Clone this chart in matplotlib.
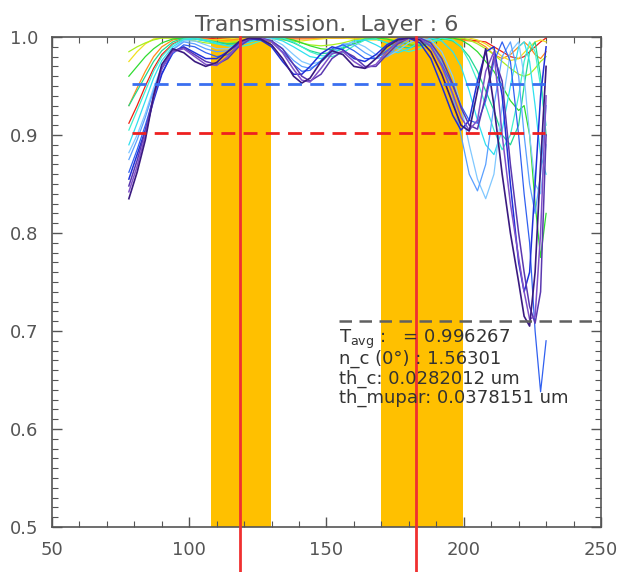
import matplotlib
matplotlib.use("Agg")
import matplotlib.pyplot as plt
from matplotlib.ticker import MultipleLocator

# wavelength grid shared by all the transmission curves
wl = [78, 81, 84, 87, 90, 94, 98, 102, 106, 110, 114, 118, 122, 126, 130, 134, 138, 141, 144, 148,
      152, 156, 160, 164, 168, 172, 176, 180, 184, 188, 192, 196, 199, 202, 205, 208, 211, 214, 217, 220,
      222, 224, 226, 228, 230]

t_purple = [.835, .862, .895, .940, .972, .988, .984, .975, .970, .974, .985, .995, .999, .998, .992, .978, .960, .953, .958, .975,
            .986, .982, .970, .968, .978, .990, .997, .999, .997, .985, .962, .932, .910, .904, .945, .988, .930, .860, .800, .750,
            .715, .705, .760, .870, .970]
t_violet = [.842, .868, .900, .938, .968, .985, .988, .980, .972, .971, .980, .992, .999, .999, .995, .984, .967, .956, .954, .968,
            .983, .985, .975, .968, .972, .985, .995, .999, .998, .991, .970, .942, .918, .905, .915, .965, .985, .900, .830, .775,
            .740, .712, .715, .800, .940]
t_indigo = [.848, .874, .904, .940, .968, .986, .989, .982, .975, .972, .978, .990, .998, .999, .996, .988, .972, .960, .955, .962,
            .978, .986, .980, .970, .970, .982, .993, .999, .999, .994, .978, .952, .928, .910, .906, .940, .980, .955, .870, .800,
            .760, .725, .708, .740, .900]
t_navy = [.855, .880, .905, .935, .962, .985, .990, .984, .978, .978, .985, .993, .998, .997, .990, .975, .962, .962, .970, .983,
          .990, .987, .978, .975, .982, .992, .998, .999, .994, .978, .950, .920, .905, .915, .955, .985, .990, .940, .850, .770,
          .740, .760, .850, .940, .990]
t_blue = [.862, .885, .910, .938, .963, .983, .992, .990, .984, .980, .982, .990, .997, .999, .995, .985, .972, .965, .966, .976,
          .988, .992, .986, .978, .978, .986, .995, .999, .998, .990, .972, .950, .930, .915, .912, .935, .975, .995, .975, .900,
          .840, .790, .700, .638, .690]
t_lightblue = [.875, .895, .918, .945, .968, .987, .995, .993, .988, .985, .986, .992, .998, .999, .996, .988, .976, .970, .968, .974,
               .985, .993, .992, .984, .978, .980, .990, .997, .999, .993, .975, .940, .900, .860, .843, .870, .930, .980, .995, .960,
               .900, .850, .820, .860, .930]
t_sky = [.882, .900, .922, .948, .970, .988, .996, .996, .992, .988, .988, .992, .997, .999, .998, .992, .982, .975, .972, .975,
         .984, .992, .995, .990, .982, .980, .986, .994, .999, .997, .985, .960, .930, .890, .855, .835, .860, .930, .985, .995,
         .960, .900, .850, .840, .890]
t_cyan = [.890, .912, .935, .958, .976, .990, .997, .998, .996, .993, .991, .992, .995, .998, .999, .996, .990, .985, .980, .978,
          .982, .990, .996, .997, .992, .986, .984, .988, .995, .999, .996, .985, .970, .945, .915, .890, .880, .905, .950, .990,
          .995, .975, .930, .880, .860]
t_aqua = [.905, .925, .945, .965, .980, .992, .998, .999, .997, .994, .991, .990, .992, .996, .999, .999, .995, .990, .985, .981,
          .980, .984, .991, .997, .998, .994, .988, .985, .988, .994, .999, .997, .990, .975, .955, .930, .905, .885, .900, .940,
          .975, .995, .985, .950, .910]
t_teal = [.930, .945, .960, .975, .986, .995, .999, .999, .997, .995, .993, .993, .995, .998, .999, .998, .994, .990, .986, .983,
          .984, .988, .994, .998, .998, .994, .990, .989, .992, .997, .999, .996, .990, .980, .965, .945, .925, .900, .890, .910,
          .950, .985, .995, .960, .900]
t_green = [.960, .970, .980, .988, .994, .998, .999, .998, .996, .994, .993, .994, .996, .998, .999, .999, .997, .994, .991, .988,
           .987, .989, .993, .997, .999, .998, .995, .992, .991, .994, .998, .999, .997, .992, .985, .975, .965, .950, .935, .925,
           .930, .900, .830, .775, .820]
t_lime = [.985, .990, .994, .997, .999, .999, .998, .996, .994, .993, .994, .996, .998, .999, .999, .998, .996, .994, .992, .991,
          .992, .994, .997, .999, .999, .998, .996, .994, .993, .994, .997, .999, .999, .997, .993, .988, .982, .975, .968, .962,
          .960, .962, .968, .975, .980]
t_yellow = [.975, .985, .993, .998, .999, .999, .999, .998, .997, .997, .998, .999, .999, .999, .998, .997, .996, .996, .997, .998,
            .999, .999, .998, .997, .997, .998, .999, .999, .998, .997, .997, .998, .999, .999, .997, .993, .987, .980, .976, .978,
            .984, .990, .995, .997, .995]
t_orange = [.930, .948, .965, .980, .990, .997, .999, .999, .998, .997, .997, .998, .999, .999, .999, .999, .998, .998, .998, .999,
            .999, .999, .999, .998, .998, .999, .999, .999, .999, .999, .998, .998, .997, .996, .995, .990, .982, .978, .982, .990,
            .995, .990, .982, .978, .985]
t_red = [.912, .930, .950, .968, .982, .993, .998, .999, .999, .998, .998, .999, .999, .999, .999, .999, .999, .999, .999, .999,
         .999, .999, .999, .999, .999, .999, .999, .999, .999, .999, .999, .999, .998, .997, .996, .995, .990, .985, .980, .978,
         .980, .985, .990, .995, .999]

curves = [
    (t_red, "#f02010", 0.9),
    (t_orange, "#ff8c1a", 0.9),
    (t_yellow, "#f0e020", 0.9),
    (t_lime, "#a8f020", 0.9),
    (t_green, "#30dc30", 0.9),
    (t_teal, "#20d890", 0.9),
    (t_aqua, "#40f0d0", 0.9),
    (t_cyan, "#30e0f0", 0.9),
    (t_sky, "#80c8ff", 0.9),
    (t_lightblue, "#5aa0ff", 0.9),
    (t_blue, "#3060f0", 0.9),
    (t_navy, "#1f2fd8", 1.1),
    (t_indigo, "#5a38b0", 1.1),
    (t_violet, "#8050c8", 1.1),
    (t_purple, "#3a1a80", 1.2),
]

# wavelength bands and markers
bands = [(107.8, 129.8), (170.0, 199.6)]
markers = [118.6, 182.6]
t_goal = 0.952
t_min = 0.902
t_low = 0.710

info = ["T$_{\\rm avg}$ :   = 0.996267",
        "n_c (0\u00b0) : 1.56301",
        "th_c: 0.0282012 um",
        "th_mupar: 0.0378151 um"]

gray = "#555555"

fig = plt.figure(figsize=(6.39, 5.72), dpi=100)
ax = fig.add_axes([0.0814, 0.0787, 0.8591, 0.8566])

for lo, hi in bands:
    ax.axvspan(lo, hi, color="#ffc000", lw=0, zorder=1)

for t, c, w in curves:
    ax.plot(wl, t, color=c, lw=w, zorder=2)

ax.plot([79, 229.6], [t_goal, t_goal], color="#3a6ff0", lw=2, ls=(0, (5, 3)), zorder=3)
ax.plot([79, 229.6], [t_min, t_min], color="#ee2020", lw=2, ls=(0, (5, 3)), zorder=3)
ax.plot([154.4, 249.6], [t_low, t_low], color="#606060", lw=1.8, ls=(0, (5, 3)), zorder=3)

for m in markers:
    ax.axvline(m, ymin=-0.1, ymax=1.0, color="#f03030", lw=2, clip_on=False, zorder=4)

for i, line in enumerate(info):
    ax.text(154.5, 0.691 - i * 0.0197, line, fontsize=13, color="#333333", va="center", ha="left", zorder=5)

ax.set_xlim(50, 250)
ax.set_ylim(0.5, 1.0)
ax.xaxis.set_major_locator(MultipleLocator(50))
ax.xaxis.set_minor_locator(MultipleLocator(10))
ax.yaxis.set_major_locator(MultipleLocator(0.1))
ax.yaxis.set_minor_locator(MultipleLocator(0.01))
ax.tick_params(which="both", direction="in", top=True, right=True, color=gray, labelcolor=gray,
               labelsize=13, pad=10)
ax.tick_params(which="major", length=7, width=1)
ax.tick_params(which="minor", length=4, width=0.8)
for s in ax.spines.values():
    s.set_color(gray)
    s.set_linewidth(1.2)

ax.set_title("Transmission.  Layer : 6", fontsize=16, color=gray, pad=4)

fig.savefig("out.png", dpi=100)
